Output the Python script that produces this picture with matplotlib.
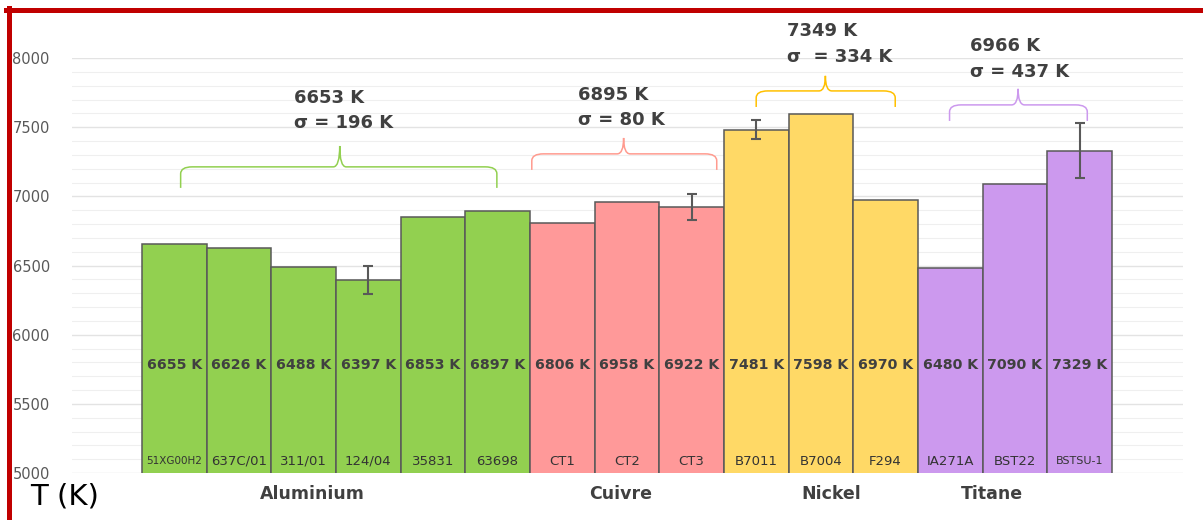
import numpy as np
import matplotlib.pyplot as plt
from matplotlib.path import Path
from matplotlib.patches import PathPatch
from matplotlib.lines import Line2D
import matplotlib.transforms as mtransforms

# sample temperatures (K)
samples = ['51XG00H2', '637C/01', '311/01', '124/04', '35831', '63698',
           'CT1', 'CT2', 'CT3',
           'B7011', 'B7004', 'F294',
           'IA271A', 'BST22', 'BSTSU-1']
temps = [6655, 6626, 6488, 6397, 6853, 6897,
         6806, 6958, 6922,
         7481, 7598, 6970,
         6480, 7090, 7329]
errors = [0, 0, 0, 100, 0, 0,
          0, 0, 95,
          70, 0, 0,
          0, 0, 200]

groups = ['Aluminium', 'Cuivre', 'Nickel', 'Titane']
group_sizes = [6, 3, 3, 3]
group_means = [6653, 6895, 7349, 6966]
group_sigmas = [196, 80, 334, 437]

bar_colors = ['#92D050', '#FF9999', '#FFD966', '#CC99EE']
brace_colors = ['#92D050', '#FF9B8F', '#FFC000', '#CC99EE']
txt = '#404040'

fig = plt.figure(figsize=(12.03, 5.2), dpi=100)
ax = fig.add_axes([72 / 1203, 47 / 520, 1111 / 1203, 415 / 520])

x = np.arange(len(samples))
colors = []
for c, n in zip(bar_colors, group_sizes):
    colors += [c] * n
ax.bar(x, temps, width=1.0, bottom=0, color=colors, edgecolor='#595959',
       linewidth=1.1, zorder=3)

for xi, t, e in zip(x, temps, errors):
    if e > 0:
        ax.errorbar(xi, t, yerr=e, color='#595959', elinewidth=1.5,
                    capsize=3.5, capthick=1.5, zorder=4)

small = {'51XG00H2': 7.5, 'BSTSU-1': 8}
for xi, t, s in zip(x, temps, samples):
    ax.text(xi, 5780, f'{t} K', ha='center', va='center', fontsize=10.2,
            fontweight='bold', color=txt, zorder=5)
    ax.text(xi, 5085, s, ha='center', va='center', fontsize=small.get(s, 9.5),
            color='#333333', zorder=5)

ax.set_xlim(-1.58, 15.6)
ax.set_ylim(5000, 8000)
ax.set_yticks(np.arange(5000, 8001, 500))
ax.set_yticks(np.arange(5000, 8001, 100), minor=True)
ax.set_xticks([])
ax.tick_params(axis='y', which='both', length=0, pad=16, labelsize=10.5,
               labelcolor='#595959')
ax.grid(axis='y', which='major', color='#E3E3E3', linewidth=1.0, zorder=0)
ax.grid(axis='y', which='minor', color='#EFEFEF', linewidth=0.8, zorder=0)
for sp in ax.spines.values():
    sp.set_visible(False)

# group names under the bars
trans = mtransforms.blended_transform_factory(ax.transData, ax.transAxes)
label_x = [2.14, 6.9, 10.16, 12.64]
for g, lx in zip(groups, label_x):
    ax.text(lx, -0.05, g, transform=trans, ha='center', va='center',
            fontsize=12.5, fontweight='bold', color=txt)


def brace(x0, x1, xt, y_end, y_h, y_tip, color):
    cdx, cdy = 0.18, 50
    tdx = 0.1
    verts = [(x0, y_end), (x0, y_h - cdy),
             (x0, y_h), (x0 + cdx, y_h),
             (xt - tdx, y_h),
             (xt, y_h), (xt, y_tip),
             (xt, y_h), (xt + tdx, y_h),
             (x1 - cdx, y_h),
             (x1, y_h), (x1, y_h - cdy),
             (x1, y_end)]
    codes = [Path.MOVETO, Path.LINETO,
             Path.CURVE3, Path.CURVE3,
             Path.LINETO,
             Path.CURVE3, Path.CURVE3,
             Path.CURVE3, Path.CURVE3,
             Path.LINETO,
             Path.CURVE3, Path.CURVE3,
             Path.LINETO]
    ax.add_patch(PathPatch(Path(verts, codes), facecolor='none',
                           edgecolor=color, linewidth=1.1, clip_on=False,
                           zorder=6))


# group mean / sigma annotations
braces = [(0.10, 4.99, 2.56, 7061, 7213, 7364),
          (5.53, 8.39, 6.95, 7191, 7307, 7422),
          (9.00, 11.15, 10.07, 7646, 7762, 7871),
          (11.99, 14.12, 13.05, 7545, 7661, 7777)]
text_pos = [(1.85, 7711, 7531), (6.24, 7733, 7552),
            (9.47, 8196, 8008), (12.31, 8087, 7900)]
sig_fmt = ['σ = {} K', 'σ = {} K', 'σ  = {} K', 'σ = {} K']
for b, tp, m, s, fmt, c in zip(braces, text_pos, group_means, group_sigmas,
                               sig_fmt, brace_colors):
    brace(*b, c)
    ax.text(tp[0], tp[1], f'{m} K', ha='left', va='center', fontsize=13,
            fontweight='bold', color=txt, clip_on=False)
    ax.text(tp[0], tp[2], fmt.format(s), ha='left', va='center', fontsize=13,
            fontweight='bold', color=txt, clip_on=False)

fig.text(30 / 1203, 1 - 497 / 520, 'T (K)', ha='left', va='center',
         fontsize=21, color='black')

# red frame on top and left
fig.add_artist(Line2D([6 / 1203, 1.0], [1 - 10 / 520, 1 - 10 / 520],
                      color='#C00000', linewidth=3.6,
                      transform=fig.transFigure))
fig.add_artist(Line2D([8.5 / 1203, 8.5 / 1203], [0, 1 - 8 / 520],
                      color='#C00000', linewidth=3.6,
                      transform=fig.transFigure))

fig.savefig('out.png', dpi=100)
